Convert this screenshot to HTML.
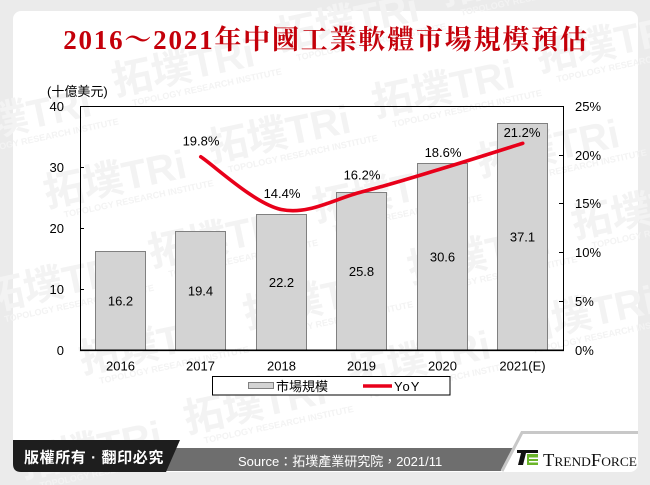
<!DOCTYPE html>
<html><head><meta charset="utf-8"><style>
html,body{margin:0;padding:0;background:#ebebeb;}
svg{display:block;}
text{font-family:"Liberation Sans","Noto Sans CJK TC",sans-serif;}
</style></head><body>
<svg width="650" height="485" viewBox="0 0 650 485" xmlns="http://www.w3.org/2000/svg">
<rect x="0" y="0" width="650" height="485" fill="#ebebeb"/>
<!-- card -->
<rect x="13" y="11" width="625" height="461" rx="8" ry="8" fill="#ffffff"/>
<!-- watermark -->
<g fill="#f3f3f3" font-weight="bold">
  <g transform="rotate(-12 325 240)">
    <text x="-20" y="70" font-size="40">拓墣TRi</text><text x="-5" y="84" font-size="9">TOPOLOGY RESEARCH INSTITUTE</text>
    <text x="150" y="55" font-size="40">拓墣TRi</text><text x="165" y="69" font-size="9">TOPOLOGY RESEARCH INSTITUTE</text>
    <text x="320" y="45" font-size="40">拓墣TRi</text><text x="335" y="59" font-size="9">TOPOLOGY RESEARCH INSTITUTE</text>
    <text x="490" y="35" font-size="40">拓墣TRi</text><text x="505" y="49" font-size="9">TOPOLOGY RESEARCH INSTITUTE</text>
    <text x="660" y="25" font-size="40">拓墣TRi</text>
    <text x="60" y="150" font-size="40">拓墣TRi</text><text x="75" y="164" font-size="9">TOPOLOGY RESEARCH INSTITUTE</text>
    <text x="230" y="140" font-size="40">拓墣TRi</text><text x="245" y="154" font-size="9">TOPOLOGY RESEARCH INSTITUTE</text>
    <text x="400" y="130" font-size="40">拓墣TRi</text><text x="415" y="144" font-size="9">TOPOLOGY RESEARCH INSTITUTE</text>
    <text x="570" y="120" font-size="40">拓墣TRi</text><text x="585" y="134" font-size="9">TOPOLOGY RESEARCH INSTITUTE</text>
    <text x="-20" y="240" font-size="40">拓墣TRi</text><text x="-5" y="254" font-size="9">TOPOLOGY RESEARCH INSTITUTE</text>
    <text x="150" y="230" font-size="40">拓墣TRi</text><text x="165" y="244" font-size="9">TOPOLOGY RESEARCH INSTITUTE</text>
    <text x="320" y="220" font-size="40">拓墣TRi</text><text x="335" y="234" font-size="9">TOPOLOGY RESEARCH INSTITUTE</text>
    <text x="490" y="210" font-size="40">拓墣TRi</text><text x="505" y="224" font-size="9">TOPOLOGY RESEARCH INSTITUTE</text>
    <text x="60" y="320" font-size="40">拓墣TRi</text><text x="75" y="334" font-size="9">TOPOLOGY RESEARCH INSTITUTE</text>
    <text x="230" y="310" font-size="40">拓墣TRi</text><text x="245" y="324" font-size="9">TOPOLOGY RESEARCH INSTITUTE</text>
    <text x="400" y="300" font-size="40">拓墣TRi</text><text x="415" y="314" font-size="9">TOPOLOGY RESEARCH INSTITUTE</text>
    <text x="570" y="290" font-size="40">拓墣TRi</text><text x="585" y="304" font-size="9">TOPOLOGY RESEARCH INSTITUTE</text>
    <text x="-20" y="410" font-size="40">拓墣TRi</text><text x="-5" y="424" font-size="9">TOPOLOGY RESEARCH INSTITUTE</text>
    <text x="150" y="400" font-size="40">拓墣TRi</text><text x="165" y="414" font-size="9">TOPOLOGY RESEARCH INSTITUTE</text>
    <text x="320" y="390" font-size="40">拓墣TRi</text><text x="335" y="404" font-size="9">TOPOLOGY RESEARCH INSTITUTE</text>
    <text x="490" y="380" font-size="40">拓墣TRi</text><text x="505" y="394" font-size="9">TOPOLOGY RESEARCH INSTITUTE</text>
    <text x="660" y="370" font-size="40">拓墣TRi</text>
  </g>
</g>
<!-- title -->
<text x="326" y="49" text-anchor="middle" font-size="27" font-weight="bold" fill="#c4000a" letter-spacing="1.8" style="font-family:'Liberation Serif','Noto Serif CJK TC','Noto Serif CJK SC',serif;">2016～2021年中國工業軟體市場規模預估</text>

<!-- unit -->
<text x="47" y="96" font-size="13" fill="#000">(十億美元)</text>

<!-- bars -->
<g fill="#d3d3d3" stroke="#808080" stroke-width="1">
  <rect x="95.5" y="251.5" width="50" height="98.5"/>
  <rect x="175.5" y="231.5" width="50" height="118.5"/>
  <rect x="256.5" y="214.5" width="50" height="135.5"/>
  <rect x="336.5" y="192.5" width="50" height="157.5"/>
  <rect x="417.5" y="163.5" width="50" height="186.5"/>
  <rect x="497.5" y="123.5" width="50" height="226.5"/>
</g>
<!-- bar labels -->
<g font-size="13" fill="#000" text-anchor="middle">
  <text x="120.5" y="305.5">16.2</text>
  <text x="200.5" y="295.5">19.4</text>
  <text x="281.5" y="287">22.2</text>
  <text x="361.5" y="276">25.8</text>
  <text x="442.5" y="261.5">30.6</text>
  <text x="522.5" y="241.5">37.1</text>
</g>

<!-- plot border -->
<rect x="80.5" y="106.5" width="483" height="243.5" fill="none" stroke="#000" stroke-width="1"/>
<line x1="80" y1="350.3" x2="564" y2="350.3" stroke="#000" stroke-width="1.6"/>
<!-- ticks -->
<g stroke="#000" stroke-width="1">
  <line x1="80" y1="167.5" x2="84" y2="167.5"/>
  <line x1="80" y1="228.5" x2="84" y2="228.5"/>
  <line x1="80" y1="289.5" x2="84" y2="289.5"/>
  <line x1="559" y1="155.5" x2="563" y2="155.5"/>
  <line x1="559" y1="203.5" x2="563" y2="203.5"/>
  <line x1="559" y1="252.5" x2="563" y2="252.5"/>
  <line x1="559" y1="301.5" x2="563" y2="301.5"/>
</g>
<!-- left labels -->
<g font-size="13" fill="#000" text-anchor="end">
  <text x="64" y="111">40</text>
  <text x="64" y="172">30</text>
  <text x="64" y="233">20</text>
  <text x="64" y="294">10</text>
  <text x="64" y="355">0</text>
</g>
<!-- right labels -->
<g font-size="13" fill="#000">
  <text x="575" y="111">25%</text>
  <text x="575" y="160">20%</text>
  <text x="575" y="208">15%</text>
  <text x="575" y="257">10%</text>
  <text x="575" y="306">5%</text>
  <text x="575" y="355">0%</text>
</g>
<!-- year labels -->
<g font-size="13" fill="#000" text-anchor="middle">
  <text x="120.5" y="370.5">2016</text>
  <text x="200.5" y="370.5">2017</text>
  <text x="281.5" y="370.5">2018</text>
  <text x="361.5" y="370.5">2019</text>
  <text x="442.5" y="370.5">2020</text>
  <text x="522.5" y="370.5">2021(E)</text>
</g>

<!-- YoY line -->
<path d="M200.75,156.8 C214.17,165.58 254.42,203.65 281.25,209.5 C308.08,215.35 334.92,198.73 361.75,191.9 C388.58,185.07 415.42,176.6 442.25,168.5 C469.08,160.4 509.33,147.5 522.75,143.3" fill="none" stroke="#e8001a" stroke-width="3.6" stroke-linecap="round"/>
<g font-size="13" fill="#000" text-anchor="middle">
  <text x="201" y="145.5">19.8%</text>
  <text x="282" y="198">14.4%</text>
  <text x="362" y="179.5">16.2%</text>
  <text x="443" y="157">18.6%</text>
  <text x="522" y="137">21.2%</text>
</g>

<!-- legend -->
<rect x="212.5" y="376.5" width="237.5" height="18.5" fill="#fff" stroke="#000" stroke-width="1"/>
<rect x="248.5" y="382.5" width="25" height="6" fill="#d3d3d3" stroke="#808080" stroke-width="1"/>
<text x="276" y="391" font-size="13" fill="#000">市場規模</text>
<line x1="363" y1="386" x2="392" y2="386" stroke="#e8001a" stroke-width="3.5"/>
<text x="394" y="391" font-size="13" fill="#000" letter-spacing="1">YoY</text>

<!-- footer -->
<polygon points="160,448 513,448 501,471 160,471" fill="#6e6e6e"/>
<path d="M13,440 L180,440 L166,472 L21,472 Q13,472 13,464 Z" fill="#1e1e1e"/>
<text x="24" y="462.5" font-size="15" font-weight="bold" fill="#fff" letter-spacing="0.6">版權所有 · 翻印必究</text>
<text x="238" y="466" font-size="13" fill="#fff">Source：拓墣產業研究院，2021/11</text>
<polyline points="502,471 522,432.5 638,432.5" fill="none" stroke="#c8c8c8" stroke-width="3"/>
<!-- trendforce logo -->
<g>
  <rect x="517" y="450" width="21" height="3" fill="#111"/>
  <polygon points="521,453 526,453 523,465 518,465" fill="#111"/>
  <rect x="527" y="454" width="11" height="11" fill="#6bb52a"/>
  <rect x="529" y="457.5" width="9" height="1.5" fill="#fff"/>
  <rect x="529" y="461" width="9" height="1.5" fill="#fff"/>
</g>
<text x="543" y="466" font-size="18" fill="#111" textLength="94" lengthAdjust="spacingAndGlyphs" style="font-family:'Liberation Serif',serif;font-variant:small-caps;">TrendForce</text>
</svg>
</body></html>
